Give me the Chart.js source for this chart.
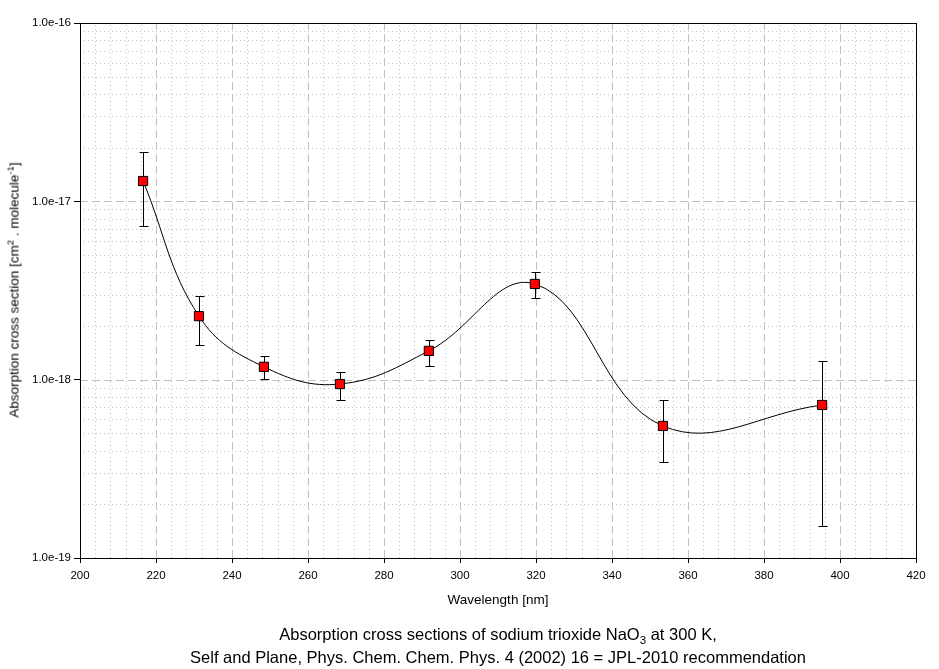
<!DOCTYPE html>
<html>
<head>
<meta charset="utf-8">
<script src="https://cdn.jsdelivr.net/npm/chart.js@4.4.1/dist/chart.umd.min.js"></script>
<style>
  html, body { margin: 0; padding: 0; background: #fff; }
  #wrap { position: relative; width: 939px; height: 669px; font-family: "Liberation Sans", Arial, sans-serif; color: #000; }
  #chart { position: absolute; left: 0; top: 0; }
  .lbl { position: absolute; white-space: nowrap; }
  #xtitle { left: 0; width: 996px; top: 592px; text-align: center; font-size: 13.5px; }
  #cap1, #cap2 { left: 0; width: 996px; text-align: center; font-size: 16.5px; }
  #cap1 { top: 625px; }
  #cap2 { top: 648px; }
  #ytitle { left: 14px; top: 290px; font-size: 13.5px; transform: translate(-50%, -50%) rotate(-90deg); }
  sub, sup { font-size: 70%; line-height: 0; }
</style>
</head>
<body>
<div id="wrap">
  <canvas id="chart" width="939" height="669"></canvas>
  <div class="lbl" id="ytitle">Absorption cross section [cm<sup>2</sup> . molecule<sup>-1</sup>]</div>
  <div class="lbl" id="xtitle">Wavelength [nm]</div>
  <div class="lbl" id="cap1">Absorption cross sections of sodium trioxide NaO<sub>3</sub> at 300 K,</div>
  <div class="lbl" id="cap2">Self and Plane, Phys. Chem. Chem. Phys. 4 (2002) 16 = JPL-2010 recommendation</div>
</div>
<script>
document.addEventListener("DOMContentLoaded", function () {
  const wavelengths = [216.6, 231.3, 248.4, 268.4, 291.8, 319.7, 353.4, 395.3];
  const crossSections = [1.30e-17, 2.27e-18, 1.18e-18, 9.45e-19, 1.45e-18, 3.44e-18, 5.50e-19, 7.21e-19];
  const errUpper = [1.89e-17, 2.94e-18, 1.36e-18, 1.10e-18, 1.67e-18, 4.01e-18, 7.69e-19, 1.27e-18];
  const errLower = [7.3e-18, 1.56e-18, 1.01e-18, 7.69e-19, 1.19e-18, 2.87e-18, 3.45e-19, 1.51e-19];
  const yMajorTicks = [1e-19, 1e-18, 1e-17, 1e-16];

  const gridGrey = '#c0c0c0';

  // dashed major / dotted minor grid, drawn from the scales
  const gridPlugin = {
    id: 'grid',
    beforeDatasetsDraw(chart) {
      const {ctx, chartArea: a, scales: {x, y}} = chart;
      ctx.save();
      ctx.lineWidth = 1;
      ctx.strokeStyle = gridGrey;
      for (let v = 204; v < 420; v += 4) {
        const major = v % 20 === 0;
        ctx.setLineDash(major ? [8, 4] : [1, 3]);
        const px = Math.round(x.getPixelForValue(v)) + 0.5;
        ctx.beginPath(); ctx.moveTo(px, a.bottom); ctx.lineTo(px, a.top); ctx.stroke();
      }
      for (let e = -19; e < -16; e++) {
        for (let m = 1; m <= 9; m++) {
          if (e === -19 && m === 1) continue;
          const v = m * Math.pow(10, e);
          ctx.setLineDash(m === 1 ? [8, 4] : [1, 3]);
          const py = Math.round(y.getPixelForValue(v)) + 0.5;
          ctx.beginPath(); ctx.moveTo(a.left, py); ctx.lineTo(a.right, py); ctx.stroke();
        }
      }
      ctx.setLineDash([]);
      // error bars
      ctx.strokeStyle = '#000';
      ctx.lineWidth = 1;
      wavelengths.forEach((w, i) => {
        const px = Math.round(x.getPixelForValue(w)) + 0.5;
        const top = Math.round(y.getPixelForValue(errUpper[i])) + 0.5;
        const bot = Math.round(y.getPixelForValue(errLower[i])) + 0.5;
        ctx.beginPath();
        ctx.moveTo(px, top); ctx.lineTo(px, bot);
        ctx.moveTo(px - 4, top); ctx.lineTo(px + 5, top);
        ctx.moveTo(px - 4, bot); ctx.lineTo(px + 5, bot);
        ctx.stroke();
      });
      ctx.restore();
    },
    afterDraw(chart) {
      const {ctx, chartArea: a} = chart;
      ctx.save();
      ctx.strokeStyle = '#000';
      ctx.lineWidth = 1;
      ctx.strokeRect(Math.round(a.left) + 0.5, Math.round(a.top) + 0.5, Math.round(a.right - a.left), Math.round(a.bottom - a.top));
      ctx.restore();
    }
  };

  const ctx = document.getElementById('chart').getContext('2d');
  new Chart(ctx, {
    type: 'line',
    data: {
      datasets: [{
        data: wavelengths.map((w, i) => ({x: w, y: crossSections[i]})),
        borderColor: '#000',
        borderWidth: 1,
        tension: 0.4,
        pointStyle: 'rect',
        pointRadius: 6.5,
        pointBackgroundColor: '#ff0000',
        pointBorderColor: '#000',
        pointBorderWidth: 1
      }]
    },
    options: {
      responsive: false,
      animation: false,
      layout: {padding: {left: 0, top: 23, right: 23, bottom: 0}},
      plugins: {legend: {display: false}, tooltip: {enabled: false}},
      scales: {
        x: {
          type: 'linear',
          min: 200, max: 420,
          ticks: {stepSize: 20, color: '#000', font: {family: 'Liberation Sans', size: 11.5}, padding: 6, maxRotation: 0},
          grid: {drawOnChartArea: false, drawTicks: true, tickLength: 5, tickColor: '#000'},
          border: {display: true, color: '#000'},
          afterFit(scale) { scale.height = 111; }
        },
        y: {
          type: 'logarithmic',
          min: 1e-19, max: 1e-16,
          afterBuildTicks(scale) { scale.ticks = yMajorTicks.map(v => ({value: v})); },
          ticks: {
            color: '#000', font: {family: 'Liberation Sans', size: 11.5}, padding: 3,
            callback: v => v.toExponential(1)
          },
          grid: {drawOnChartArea: false, drawTicks: true, tickLength: 6, tickColor: '#000'},
          border: {display: true, color: '#000'},
          afterFit(scale) { scale.width = 80; }
        }
      }
    },
    plugins: [gridPlugin]
  });
});
</script>
</body>
</html>
